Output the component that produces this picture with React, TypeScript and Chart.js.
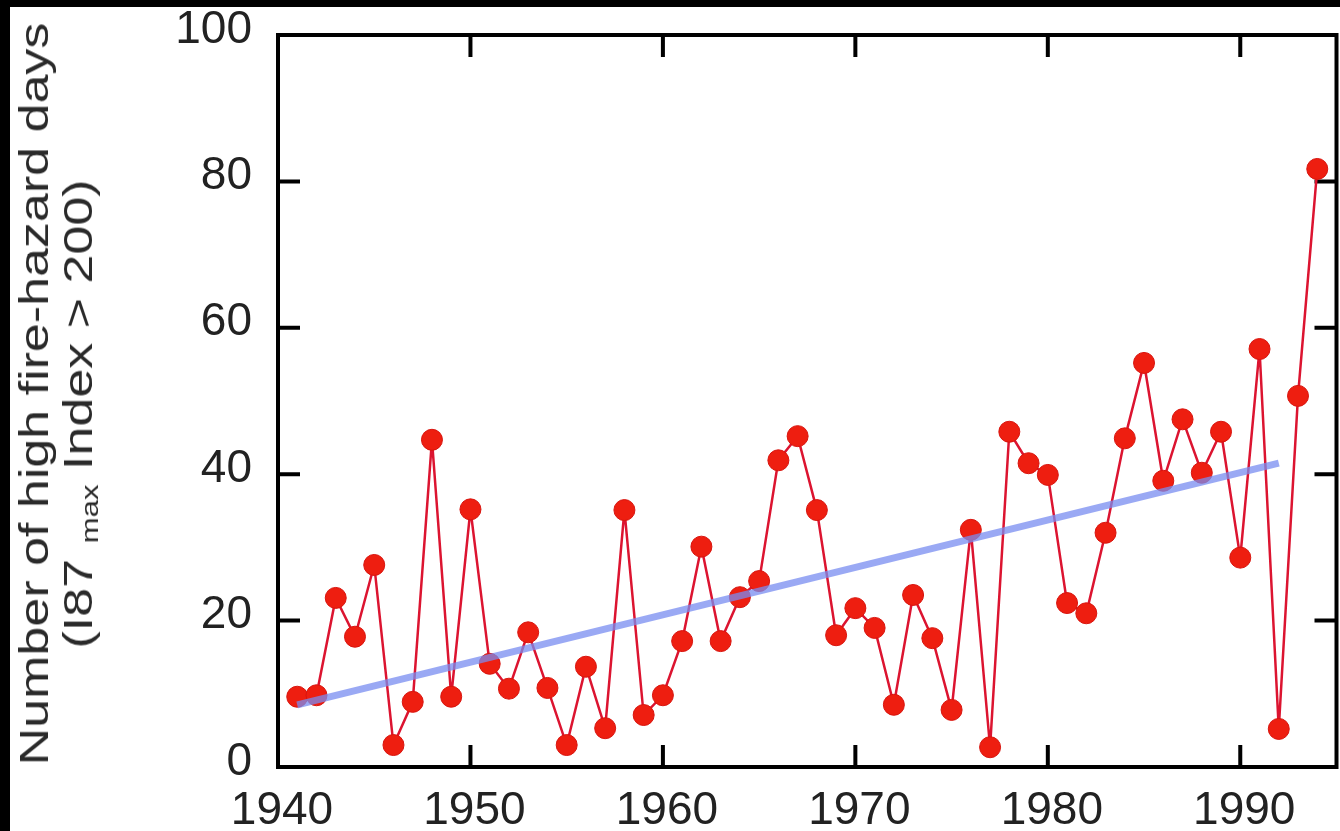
import React, { useEffect, useRef } from "react";
import { Chart, registerables } from "chart.js";

Chart.register(...registerables);

// ---- data ----
const years = [
  1941, 1942, 1943, 1944, 1945, 1946, 1947, 1948, 1949, 1950,
  1951, 1952, 1953, 1954, 1955, 1956, 1957, 1958, 1959, 1960,
  1961, 1962, 1963, 1964, 1965, 1966, 1967, 1968, 1969, 1970,
  1971, 1972, 1973, 1974, 1975, 1976, 1977, 1978, 1979, 1980,
  1981, 1982, 1983, 1984, 1985, 1986, 1987, 1988, 1989, 1990,
  1991, 1992, 1993, 1994,
];
const hazardDays = [
  9.6, 9.8, 23.1, 17.8, 27.6, 3.0, 8.9, 44.7, 9.6, 35.2,
  14.1, 10.7, 18.4, 10.8, 3.0, 13.7, 5.3, 35.1, 7.1, 9.8,
  17.2, 30.1, 17.2, 23.2, 25.4, 41.9, 45.2, 35.1, 18.0, 21.7,
  19.0, 8.5, 23.5, 17.6, 7.8, 32.4, 2.7, 45.8, 41.5, 39.9,
  22.4, 21.0, 32.0, 44.9, 55.2, 39.1, 47.5, 40.2, 45.8, 28.6,
  57.1, 5.2, 50.7, 81.7,
];
const trendYears = [1941, 1992];
const trendDays = [8.5, 41.5];
const xTickValues = [1940, 1950, 1960, 1970, 1980, 1990];
const yTickValues = [0, 20, 40, 60, 80, 100];
const titleLine1 = "Number of high fire-hazard days";
const titleLine2a = "(I87";
const titleLine2sub = "max";
const titleLine2b = " Index > 200)";

const FONT = "'Liberation Sans', Arial, Helvetica, sans-serif";

const framePlugin = {
  id: "frameTicks",
  beforeDatasetsDraw(chart: any) {
    const { ctx, chartArea } = chart;
    const xs = chart.scales.x;
    const ys = chart.scales.y;
    const len = 22;
    ctx.save();
    ctx.strokeStyle = "#000";
    ctx.lineWidth = 4;
    ctx.lineCap = "butt";
    ctx.beginPath();
    for (const v of xTickValues) {
      const px = xs.getPixelForValue(v);
      ctx.moveTo(px, chartArea.bottom);
      ctx.lineTo(px, chartArea.bottom - len);
      ctx.moveTo(px, chartArea.top);
      ctx.lineTo(px, chartArea.top + len);
    }
    for (const v of yTickValues) {
      const py = ys.getPixelForValue(v);
      ctx.moveTo(chartArea.left, py);
      ctx.lineTo(chartArea.left + len, py);
      ctx.moveTo(chartArea.right, py);
      ctx.lineTo(chartArea.right - len, py);
    }
    ctx.stroke();
    ctx.strokeRect(
      chartArea.left,
      chartArea.top,
      chartArea.right - chartArea.left,
      chartArea.bottom - chartArea.top
    );
    ctx.restore();
  },
};

export default function App() {
  const canvasRef = useRef<HTMLCanvasElement | null>(null);

  useEffect(() => {
    const canvas = canvasRef.current;
    if (!canvas) return;
    const chart = new Chart(canvas, {
      type: "scatter",
      data: {
        datasets: [
          {
            label: "Trend",
            data: trendYears.map((x, i) => ({ x, y: trendDays[i] })),
            showLine: true,
            borderColor: "rgba(120,140,240,0.75)",
            borderWidth: 7,
            borderCapStyle: "butt",
            pointRadius: 0,
            order: 0,
          },
          {
            label: "High fire-hazard days",
            data: years.map((x, i) => ({ x, y: hazardDays[i] })),
            showLine: true,
            borderColor: "#dc1430",
            borderWidth: 2.5,
            tension: 0,
            pointRadius: 10.5,
            pointBackgroundColor: "#ee1e10",
            pointBorderColor: "#d8140e",
            pointBorderWidth: 1,
            order: 1,
          },
        ],
      },
      options: {
        animation: false,
        responsive: false,
        devicePixelRatio: 1,
        layout: { padding: { top: 35, left: 0, right: 0, bottom: 0 } },
        plugins: {
          legend: { display: false },
          tooltip: { enabled: false },
        },
        scales: {
          x: {
            type: "linear",
            min: 1940,
            max: 1995,
            grid: { display: false, drawTicks: false },
            border: { display: false },
            ticks: {
              stepSize: 10,
              includeBounds: false,
              padding: 17,
              labelOffset: 4,
              color: "#222",
              font: { family: FONT, size: 46 },
              maxRotation: 0,
              callback: (v: any) => String(v),
            },
            afterFit: (s: any) => {
              s.height = 64;
              s.paddingLeft = 0;
              s.paddingRight = 0;
            },
          },
          y: {
            type: "linear",
            min: 0,
            max: 100,
            grid: { display: false, drawTicks: false },
            border: { display: false },
            ticks: {
              stepSize: 20,
              padding: 26,
              labelOffset: -5,
              color: "#222",
              font: { family: FONT, size: 46 },
              callback: (v: any) => String(v),
            },
            afterFit: (s: any) => {
              s.width = 278;
              s.paddingTop = 0;
              s.paddingBottom = 0;
            },
          },
        },
      },
      plugins: [framePlugin],
    } as any);
    return () => chart.destroy();
  }, []);

  const titleBase: React.CSSProperties = {
    position: "absolute",
    transform: "translate(-50%, -50%) rotate(-90deg) scaleX(1.3)",
    whiteSpace: "nowrap",
    fontFamily: FONT,
    fontSize: 40,
    lineHeight: 1,
    color: "#2a2a2a",
  };

  return (
    <div
      style={{
        position: "fixed",
        left: 0,
        top: 0,
        width: 1340,
        height: 831,
        background: "#000",
        overflow: "hidden",
      }}
    >
      <div
        style={{
          position: "absolute",
          left: 10,
          top: 7,
          right: 0,
          bottom: 0,
          background: "#fff",
        }}
      />
      <canvas
        ref={canvasRef}
        width={1348}
        height={831}
        style={{ position: "absolute", left: 0, top: 0, width: 1348, height: 831 }}
      />
      <div style={{ ...titleBase, left: 34, top: 394 }}>{titleLine1}</div>
      <div style={{ ...titleBase, left: 80, top: 414 }}>
        {titleLine2a}
        <span style={{ fontSize: 24, verticalAlign: "-0.25em", marginLeft: 12 }}>
          {titleLine2sub}
        </span>
        {titleLine2b}
      </div>
    </div>
  );
}
